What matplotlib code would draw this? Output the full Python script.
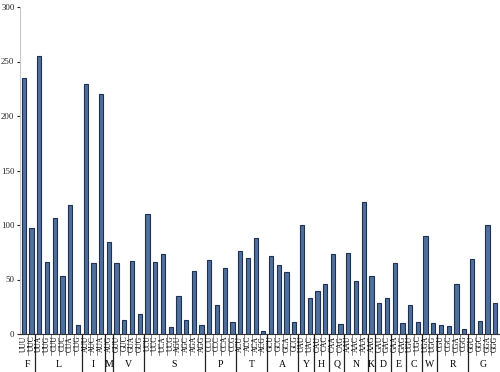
import numpy as np
import matplotlib.pyplot as plt
import matplotlib.transforms as mtransforms

# codons grouped by amino acid
groups = ['F', 'L', 'I', 'M', 'V', 'S', 'P', 'T', 'A', 'Y', 'H', 'Q', 'N', 'K',
          'D', 'E', 'C', 'W', 'R', 'G']
codons = [
    ['UUU', 'UUC'],
    ['UUA', 'UUG', 'CUU', 'CUC', 'CUA', 'CUG'],
    ['AUU', 'AUC', 'AUA'],
    ['AUG'],
    ['GUU', 'GUC', 'GUA', 'GUG'],
    ['UCU', 'UCC', 'UCA', 'UCG', 'AGU', 'AGC', 'AGA', 'AGG'],
    ['CCU', 'CCC', 'CCA', 'CCG'],
    ['ACU', 'ACC', 'ACA', 'ACG'],
    ['GCU', 'GCC', 'GCA', 'GCG'],
    ['UAU', 'UAC'],
    ['CAU', 'CAC'],
    ['CAA', 'CAG'],
    ['AAU', 'AAC', 'AAA'],
    ['AAG'],
    ['GAU', 'GAC'],
    ['GAA', 'GAG'],
    ['UGU', 'UGC'],
    ['UGA', 'UGG'],
    ['CGU', 'CGC', 'CGA', 'CGG'],
    ['GGU', 'GGC', 'GGA', 'GGG'],
]
counts = [
    [235, 97],
    [255, 66, 106, 53, 118, 8],
    [229, 65, 220],
    [84],
    [65, 13, 67, 18],
    [110, 66, 73, 6, 35, 13, 58, 8],
    [68, 27, 61, 11],
    [76, 70, 88, 3],
    [72, 63, 57, 11],
    [100, 33],
    [39, 46],
    [73, 9],
    [74, 49, 121],
    [53],
    [28, 33],
    [65, 10],
    [27, 11],
    [90, 10],
    [8, 7, 46, 5],
    [69, 12, 100, 28],
]

labels = [c for g in codons for c in g]
values = [v for g in counts for v in g]
x = np.arange(len(labels))

plt.rcParams['font.family'] = ['Liberation Serif', 'DejaVu Serif']

fig = plt.figure(figsize=(5, 3.72), dpi=100)
ax = fig.add_axes([20 / 500, 38 / 372, 479 / 500, 327 / 372])
ax.bar(x, values, width=0.55, color='#4f6f9c', edgecolor='#1e3150', linewidth=0.8)

ax.set_xlim(-0.5, len(labels) - 0.5)
ax.set_ylim(0, 300)
ax.set_yticks(range(0, 301, 50))
ax.tick_params(axis='y', labelsize=6.3, length=2.5, width=0.8, pad=1.5, colors='#222222')
ax.set_xticks([])
for s in ['top', 'right']:
    ax.spines[s].set_visible(False)
ax.spines['left'].set_color('#c8c8c8')
ax.spines['bottom'].set_color('#333333')
ax.spines['bottom'].set_linewidth(0.8)

trans = mtransforms.blended_transform_factory(ax.transData, ax.transAxes)
for i, lab in enumerate(labels):
    ax.text(i, -0.005, lab, rotation=90, ha='center', va='top', fontsize=5.5,
            transform=trans, clip_on=False)
    if i > 0:
        ax.plot([i - 0.5, i - 0.5], [0, -0.064], color='#555555', lw=0.5,
                transform=trans, clip_on=False)

start = 0
for g, cs in zip(groups, codons):
    n = len(cs)
    ax.text(start + (n - 1) / 2, -0.092, g, ha='center', va='center', fontsize=7,
            transform=trans, clip_on=False)
    if start > 0:
        ax.plot([start - 0.5, start - 0.5], [0, -0.116], color='#222222', lw=0.9,
                transform=trans, clip_on=False)
    start += n

fig.savefig('out.png', dpi=100)
